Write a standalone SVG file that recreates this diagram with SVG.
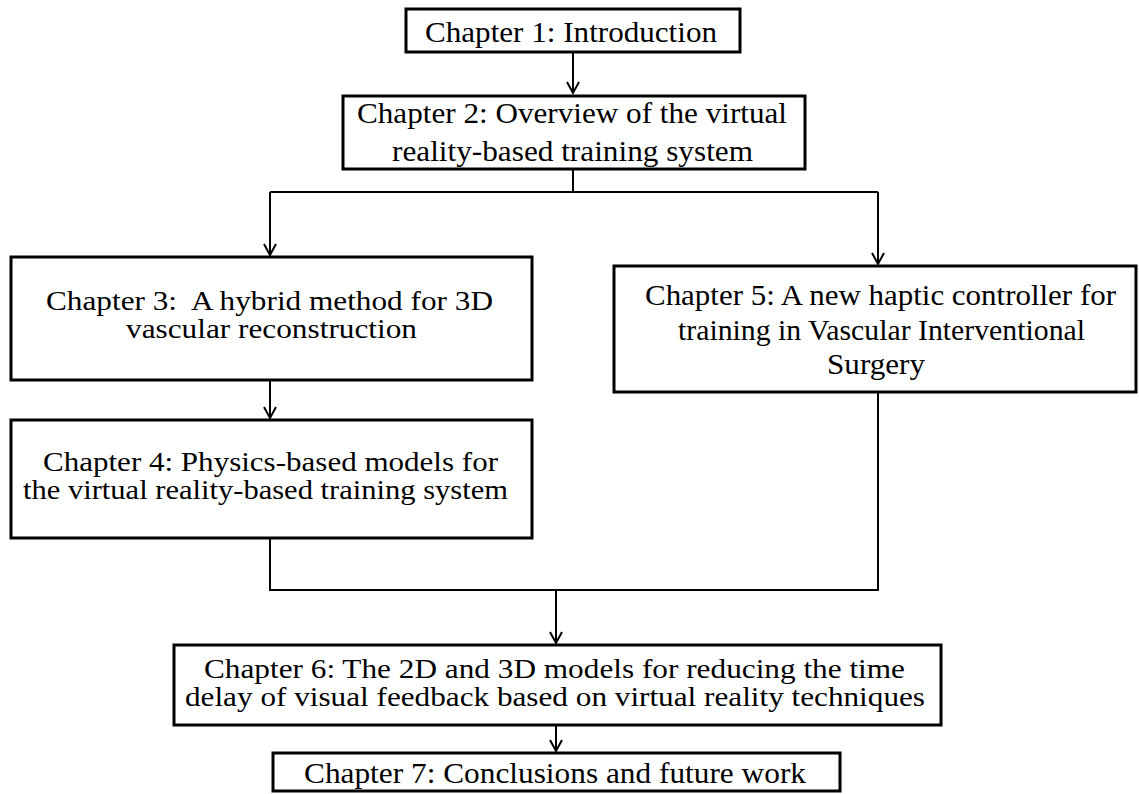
<svg xmlns="http://www.w3.org/2000/svg" width="1139" height="794" viewBox="0 0 1139 794">
<style>
.box{fill:#fff;stroke:#000;stroke-width:3}
.t{font-family:'Liberation Serif',Tinos,'Times New Roman',Times,serif;font-size:29px;fill:#000}
.s{font-size:27px}
.c{fill:none;stroke:#000;stroke-width:2}
</style>
<defs>
<marker id="arr" markerUnits="userSpaceOnUse" markerWidth="18" markerHeight="18" viewBox="-15 -9 18 18" refX="0" refY="0" orient="auto" overflow="visible">
<path d="M-11,-6 L0,0 L-11,6" fill="none" stroke="#000" stroke-width="2"/>
</marker>
</defs>
<rect width="1139" height="794" fill="#fff"/>
<g id="connectors">
<path class="c" d="M573,52 V93" marker-end="url(#arr)"/>
<path class="c" d="M573,169 V192 M270,192 H878"/>
<path class="c" d="M270,192 V255" marker-end="url(#arr)"/>
<path class="c" d="M878,192 V264" marker-end="url(#arr)"/>
<path class="c" d="M270,380 V418" marker-end="url(#arr)"/>
<path class="c" d="M878,392 V590 H270 V538"/>
<path class="c" d="M556,590 V643" marker-end="url(#arr)"/>
<path class="c" d="M556,725 V751" marker-end="url(#arr)"/>
</g>
<g id="ch1">
<rect class="box" x="406" y="9" width="334" height="43"/>
<text class="t" font-family="Liberation Serif" x="425" y="42" textLength="292" lengthAdjust="spacingAndGlyphs">Chapter 1: Introduction</text>
</g>
<g id="ch2">
<rect class="box" x="343" y="96" width="462" height="73"/>
<text class="t" x="357" y="123" textLength="430" lengthAdjust="spacingAndGlyphs">Chapter 2: Overview of the virtual</text>
<text class="t" x="392" y="161" textLength="361" lengthAdjust="spacingAndGlyphs">reality-based training system</text>
</g>
<g id="ch3">
<rect class="box" x="11" y="257" width="521" height="123"/>
<text class="t s" x="46" y="310" textLength="447" lengthAdjust="spacingAndGlyphs" xml:space="preserve">Chapter 3:  A hybrid method for 3D</text>
<text class="t s" x="126" y="338" textLength="291" lengthAdjust="spacingAndGlyphs">vascular reconstruction</text>
</g>
<g id="ch4">
<rect class="box" x="11" y="420" width="521" height="118"/>
<text class="t s" x="43" y="471" textLength="455" lengthAdjust="spacingAndGlyphs">Chapter 4: Physics-based models for</text>
<text class="t s" x="23" y="499" textLength="485" lengthAdjust="spacingAndGlyphs">the virtual reality-based training system</text>
</g>
<g id="ch5">
<rect class="box" x="614" y="266" width="522" height="126"/>
<text class="t" x="645" y="305" textLength="471" lengthAdjust="spacingAndGlyphs">Chapter 5: A new haptic controller for</text>
<text class="t" x="678" y="340" textLength="407" lengthAdjust="spacingAndGlyphs">training in Vascular Interventional</text>
<text class="t" x="827" y="374" textLength="98" lengthAdjust="spacingAndGlyphs">Surgery</text>
</g>
<g id="ch6">
<rect class="box" x="174" y="645" width="767" height="80"/>
<text class="t s" x="204" y="678" textLength="701" lengthAdjust="spacingAndGlyphs">Chapter 6: The 2D and 3D models for reducing the time</text>
<text class="t s" x="185" y="706" textLength="740" lengthAdjust="spacingAndGlyphs">delay of visual feedback based on virtual reality techniques</text>
</g>
<g id="ch7">
<rect class="box" x="273" y="753" width="567" height="38"/>
<text class="t" x="304" y="783" textLength="502" lengthAdjust="spacingAndGlyphs">Chapter 7: Conclusions and future work</text>
</g>
</svg>
